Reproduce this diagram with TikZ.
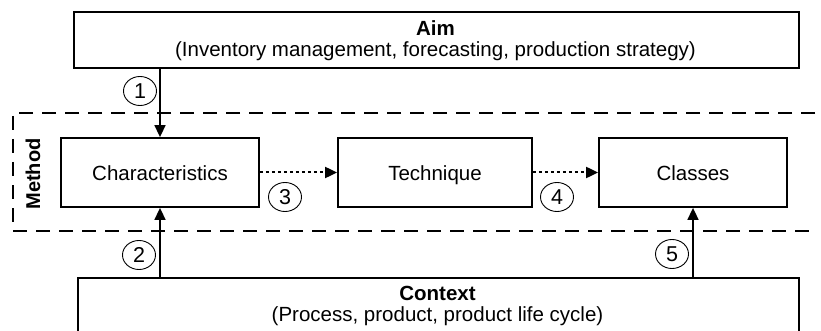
\documentclass[tikz,border=0pt]{standalone}
\usepackage{fontspec}
\setmainfont{Liberation Sans}
\usetikzlibrary{arrows.meta,shapes.geometric}
\begin{document}
\begin{tikzpicture}[x=1pt,y=-1pt,
  box/.style={draw, line width=1.8pt, rectangle, inner sep=0pt, text height=20.5pt, text depth=4.5pt, font=\fontsize{20.5}{23}\selectfont},
  conn/.style={line width=1.6pt, -{Triangle[length=12pt,width=11pt]}},
  dotconn/.style={line width=2pt, dash pattern=on 3pt off 3pt, -{Triangle[length=12pt,width=11pt]}},
  num/.style={draw, line width=0.9pt, ellipse, minimum width=33pt, minimum height=29pt, inner sep=0pt, font=\fontsize{21.5}{23}\selectfont},
  frame/.style={line width=2pt, dash pattern=on 14pt off 9pt},
  lbl/.style={font=\fontsize{20.5}{21}\selectfont, align=center}
]
\useasboundingbox (0,0) rectangle (821,331);
% Aim
\node[box, text height=, text depth=, minimum width=725pt, minimum height=56pt, anchor=north west] (aim) at (73,11) {};
\node[lbl] (aimtxt) at (435.5,41) {\textbf{Aim}\\(Inventory management, forecasting, production strategy)};
% Method frame
\draw[frame] (815,113) -- (13,113) -- (13,231) -- (815,231);
\node[rotate=90, font=\fontsize{20}{22}\selectfont\bfseries] (method) at (33,174) {Method};
% Method boxes
\node[box, minimum width=198pt, minimum height=69pt] (char) at (160,172.5) {Characteristics};
\node[box, minimum width=194pt, minimum height=69pt] (tech) at (435,172.5) {Technique};
\node[box, minimum width=188pt, minimum height=69pt] (cls) at (693,172.5) {Classes};
% Context
\node[box, text height=, text depth=, minimum width=721pt, minimum height=80pt, anchor=north west] (ctx) at (77,277) {};
\node[lbl] (ctxtxt) at (437.5,306) {\textbf{Context}\\(Process, product, product life cycle)};
% connectors
\draw[conn] (aim.south -| char.north) -- (char.north);
\draw[conn] (ctx.north -| char.south) -- (char.south);
\draw[conn] (ctx.north -| cls.south) -- (cls.south);
\draw[dotconn] (char.east) -- (tech.west);
\draw[dotconn] (tech.east) -- (cls.west);
% numbers
\node[num] (n1) at (140,91) {1};
\node[num] (n2) at (139,255) {2};
\node[num] (n3) at (285,197) {3};
\node[num] (n4) at (557,197) {4};
\node[num] (n5) at (672,254) {5};
\end{tikzpicture}
\end{document}
